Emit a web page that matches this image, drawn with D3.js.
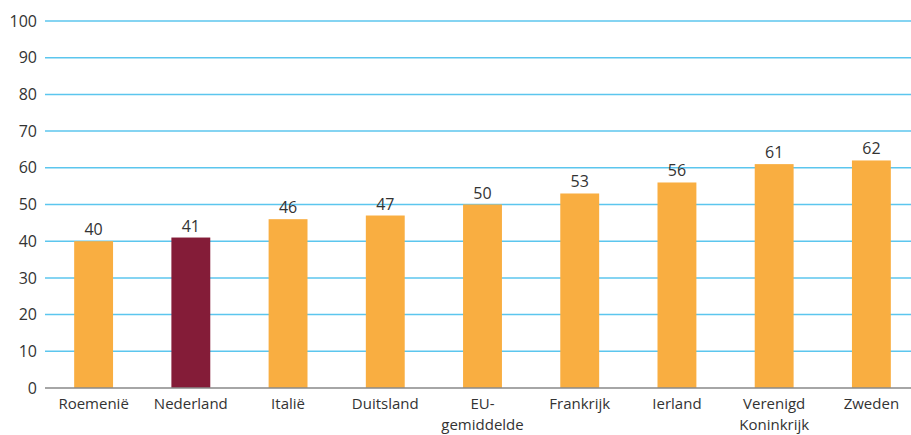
<!DOCTYPE html>
<html>
<head>
<meta charset="utf-8">
<script src="https://cdn.jsdelivr.net/npm/d3@7"></script>
<style>
  body { margin: 0; background: #fff; }
  svg text { font-family: "Open Sans", "Liberation Sans", sans-serif; fill: #333; }
</style>
</head>
<body>
<div id="chart"></div>
<script>
// categories and values
const countries = [["Roemenië"], ["Nederland"], ["Italië"], ["Duitsland"], ["EU-", "gemiddelde"],
                   ["Frankrijk"], ["Ierland"], ["Verenigd", "Koninkrijk"], ["Zweden"]];
const values = [40, 41, 46, 47, 50, 53, 56, 61, 62];
const highlight = "Nederland";
const yTicks = [0, 10, 20, 30, 40, 50, 60, 70, 80, 90, 100];

const W = 911, H = 435;
const margin = { top: 21, left: 45, bottom: 47, right: -9 };

const svg = d3.select("#chart").append("svg")
    .attr("width", W).attr("height", H);

const names = countries.map(d => d.join(" "));

const x = d3.scaleBand()
    .domain(names)
    .range([margin.left, W - margin.right])
    .paddingInner(0.6)
    .paddingOuter(0.3);

const y = d3.scaleLinear()
    .domain([0, 100])
    .range([H - margin.bottom, margin.top]);

// gridlines
svg.append("g")
    .selectAll("line")
    .data(yTicks.filter(d => d > 0))
    .enter().append("line")
    .attr("x1", margin.left).attr("x2", W)
    .attr("y1", d => y(d)).attr("y2", d => y(d))
    .attr("stroke", "#5cc6ee")
    .attr("stroke-width", 1.5);

// y tick labels
svg.append("g")
    .selectAll("text")
    .data(yTicks)
    .enter().append("text")
    .attr("x", 37)
    .attr("y", d => y(d))
    .attr("dy", "0.35em")
    .attr("text-anchor", "end")
    .style("font-size", "16px")
    .text(d => d);

// bars
svg.append("g")
    .selectAll("rect")
    .data(values)
    .enter().append("rect")
    .attr("x", (d, i) => x(names[i]))
    .attr("width", x.bandwidth())
    .attr("y", d => y(d))
    .attr("height", d => y(0) - y(d))
    .attr("fill", (d, i) => names[i] === highlight ? "#841c38" : "#f9ae41");

// value labels
svg.append("g")
    .selectAll("text")
    .data(values)
    .enter().append("text")
    .attr("x", (d, i) => x(names[i]) + x.bandwidth() / 2)
    .attr("y", d => y(d) - 6)
    .attr("text-anchor", "middle")
    .style("font-size", "16px")
    .text(d => d);

// x axis line
svg.append("line")
    .attr("x1", margin.left).attr("x2", W)
    .attr("y1", y(0)).attr("y2", y(0))
    .attr("stroke", "#888")
    .attr("stroke-width", 1.5);

// category labels, one text per line
const lines = [];
countries.forEach((c, i) => c.forEach((t, j) => lines.push({ t, j, n: names[i] })));

svg.append("g")
    .selectAll("text")
    .data(lines)
    .enter().append("text")
    .attr("x", d => x(d.n) + x.bandwidth() / 2)
    .attr("y", d => y(0) + 21 + d.j * 21)
    .attr("text-anchor", "middle")
    .style("font-size", "15px")
    .text(d => d.t);
</script>
</body>
</html>
